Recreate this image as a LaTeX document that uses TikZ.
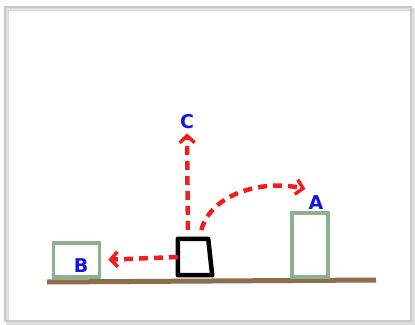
\documentclass[tikz,border=0pt]{standalone}
\usepackage{fontspec}
\usepackage{tikz}
\usetikzlibrary{arrows.meta,positioning}
\newfontfamily\markerfont{DejaVu Sans}
\definecolor{ground}{RGB}{140,110,78}
\definecolor{boxgreen}{RGB}{140,178,140}
\definecolor{arrowred}{RGB}{240,30,30}
\definecolor{letterblue}{RGB}{20,20,225}
\definecolor{framegray}{RGB}{200,200,200}
\tikzset{
  greenbox/.style={rectangle,draw=boxgreen,line width=3.5pt,fill=white,inner sep=0pt},
  letter/.style={text=letterblue,font=\markerfont\bfseries\fontsize{19}{19}\selectfont,inner sep=1pt},
  redarrow/.style={draw=arrowred,line width=4.5pt,dash pattern=on 9pt off 6pt,
    -{Straight Barb[length=7pt,width=15pt,line width=3.5pt]}}
}
\begin{document}
\begin{tikzpicture}[x=1pt,y=-1pt]
  \useasboundingbox (0,0) rectangle (415,324);
  \fill[white] (0,0) rectangle (415,324);
  \draw[framegray!60,line width=3pt] (7,9) rectangle (413,323);
  \draw[framegray,line width=1.5pt] (5,7) rectangle (411,321);
  \coordinate (gl) at (47,282);
  \coordinate (gr) at (376,280);
  \draw[ground,line width=5pt] (gl) -- (gr);
  \node[greenbox,minimum width=46pt,minimum height=34pt] (boxB) at (76.5,260) {};
  \node[greenbox,minimum width=36pt,minimum height=64pt] (boxA) at (310,245) {};
  \node[rectangle,minimum width=30pt,minimum height=36pt,inner sep=0pt] (obj) at (193,257) {};
  \draw[black,line width=4.5pt,line join=round]
    (obj.north west) -- (obj.north east) -- ([xshift=4pt]obj.south east) -- (obj.south west) -- cycle;
  \node[letter] (labB) at (81,266) {B};
  \node[letter] (labA) at (316,203) {A};
  \node[letter] (labC) at (187,122) {C};
  \draw[redarrow,shorten >=7pt] (obj.west) -- (boxB.east);
  \draw[redarrow,shorten <=9pt,shorten >=3pt] ([xshift=-5pt]obj.north) -- (labC.south);
  \draw[redarrow,shorten <=9pt] ([xshift=6pt]obj.north) to[out=75,in=168] ([xshift=-2pt,yshift=6pt]labA.north west);
\end{tikzpicture}
\end{document}
